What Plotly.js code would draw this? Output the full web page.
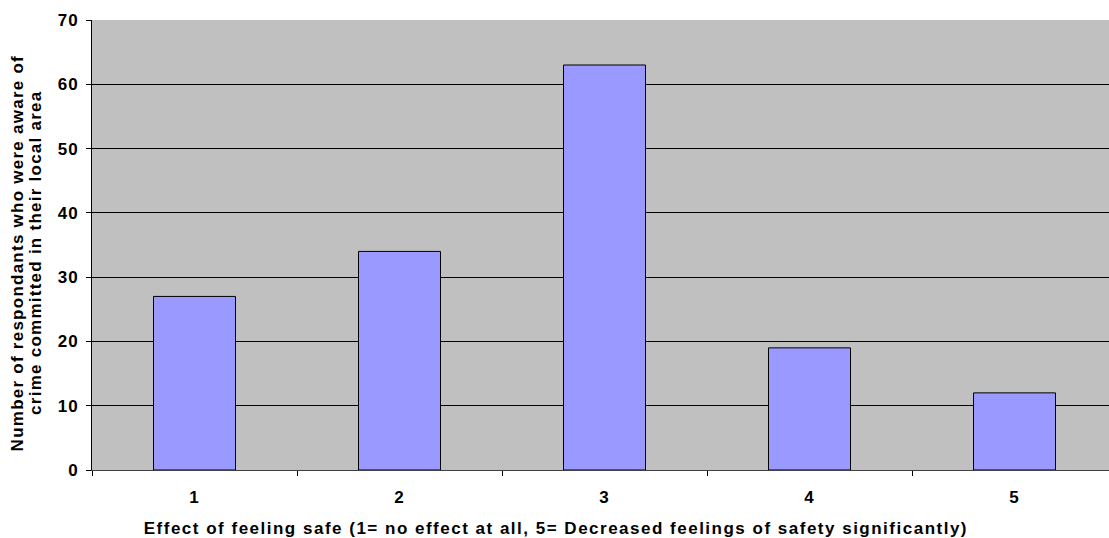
<!DOCTYPE html>
<html>
<head>
<meta charset="utf-8">
<script src="https://cdn.plot.ly/plotly-3.0.1.min.js"></script>
<style>
html,body{margin:0;padding:0;background:#fff;}
#chart{width:1109px;height:538px;}
#chart .annotation-text{letter-spacing:1.5px;}
#chart g.annotation[data-index="1"] .annotation-text,
#chart g.annotation[data-index="2"] .annotation-text{letter-spacing:1.25px;}
#chart .xtick text, #chart .ytick text{letter-spacing:1px;}
</style>
</head>
<body>
<div id="chart"></div>
<script>
const categories = ["1", "2", "3", "4", "5"];
const categoryPositions = [1, 2, 3, 4, 5];
const respondents = [27, 34, 63, 19, 12];
const yTicks = [0, 10, 20, 30, 40, 50, 60, 70];
const dividerPositions = [0.5, 1.5, 2.5, 3.5, 4.5, 5.5];
const xTitle = "Effect of feeling safe (1= no effect at all, 5= Decreased feelings of safety significantly)";
const yTitleLines = ["Number of respondants who were aware of", "crime committed in their local area"];

const fam = "Liberation Sans, Arial, sans-serif";
const boldFont = (s) => ({family: fam, size: s, color: "#000", weight: "bold"});

const traces = [
  {
    type: "bar",
    x: categoryPositions,
    y: respondents,
    width: 0.4,
    marker: {color: "#9999FF", line: {color: "#000000", width: 1}},
    hoverinfo: "x+y"
  },
  {
    type: "scatter",
    mode: "markers",
    x: dividerPositions,
    y: dividerPositions.map(() => 0),
    xaxis: "x2",
    marker: {opacity: 0},
    hoverinfo: "skip",
    showlegend: false
  }
];

const xRange = [0.5, 0.5 + (1109 - 92) / 205];

const layout = {
  width: 1109,
  height: 538,
  margin: {l: 92, r: 0, t: 20, b: 68},
  paper_bgcolor: "#ffffff",
  plot_bgcolor: "#C0C0C0",
  showlegend: false,
  font: boldFont(17),
  xaxis: {
    range: xRange,
    tickvals: categoryPositions,
    ticktext: categories,
    ticks: "",
    showgrid: false,
    zeroline: false,
    showline: true,
    linecolor: "#404040",
    linewidth: 1,
    tickfont: boldFont(17),
    ticklabelstandoff: 12,
    fixedrange: true
  },
  xaxis2: {
    overlaying: "x",
    anchor: "y",
    side: "bottom",
    range: xRange,
    tickvals: dividerPositions,
    ticktext: dividerPositions.map(() => ""),
    ticks: "outside",
    ticklen: 5,
    tickcolor: "#000",
    tickwidth: 1,
    showgrid: false,
    showline: false,
    zeroline: false,
    showticklabels: false,
    fixedrange: true
  },
  yaxis: {
    range: [0, 70],
    tickvals: yTicks,
    ticktext: yTicks.map(String),
    ticks: "outside",
    ticklen: 5,
    tickcolor: "#000",
    showgrid: true,
    gridcolor: "#000000",
    gridwidth: 1,
    zeroline: false,
    showline: true,
    linecolor: "#000",
    linewidth: 1,
    tickfont: boldFont(17),
    ticklabelstandoff: 4,
    fixedrange: true
  },
  annotations: [
    {
      text: xTitle,
      xref: "paper",
      yref: "paper",
      x: (556 - 92) / (1109 - 92),
      y: 0,
      yshift: -58,
      xanchor: "center",
      yanchor: "middle",
      showarrow: false,
      font: boldFont(17)
    },
    {
      text: yTitleLines[0],
      xref: "paper",
      yref: "paper",
      x: 0,
      xshift: -75,
      y: 0.5,
      yshift: -8,
      textangle: -90,
      xanchor: "center",
      yanchor: "middle",
      showarrow: false,
      font: boldFont(17)
    },
    {
      text: yTitleLines[1],
      xref: "paper",
      yref: "paper",
      x: 0,
      xshift: -57,
      y: 0.5,
      yshift: -8,
      textangle: -90,
      xanchor: "center",
      yanchor: "middle",
      showarrow: false,
      font: boldFont(17)
    }
  ],
  bargap: 0
};

Plotly.newPlot("chart", traces, layout, {displayModeBar: false, staticPlot: true});
</script>
</body>
</html>
